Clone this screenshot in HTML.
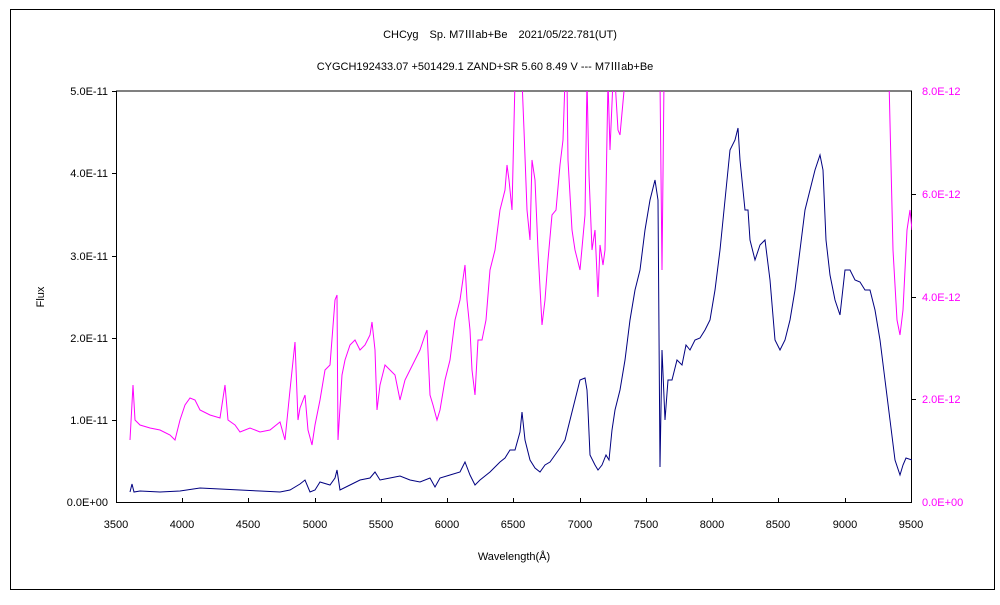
<!DOCTYPE html>
<html><head><meta charset="utf-8"><style>
body{margin:0;background:#fff;width:1000px;height:600px;overflow:hidden;font-family:"Liberation Sans","Noto Sans CJK JP",sans-serif;}
svg text{font-family:"Liberation Sans","Noto Sans CJK JP",sans-serif;font-size:11px;}
</style></head><body>
<svg width="1000" height="600" xmlns="http://www.w3.org/2000/svg">
<rect x="10.5" y="9.5" width="984" height="580" fill="#fff" stroke="#000" stroke-width="1"/>
<text x="500" y="38" text-anchor="middle">CHCyg　Sp. M7Ⅲab+Be　2021/05/22.781(UT)</text>
<text x="485" y="70" text-anchor="middle">CYGCH192433.07 +501429.1 ZAND+SR 5.60 8.49 V --- M7Ⅲab+Be</text>
<defs><clipPath id="c"><rect x="116" y="91" width="796" height="411"/></clipPath></defs>
<line x1="116" y1="91" x2="912" y2="91" stroke="#808080" stroke-width="2"/>
<line x1="116.5" y1="91" x2="116.5" y2="502" stroke="#000"/>
<line x1="911.5" y1="91" x2="911.5" y2="502" stroke="#000"/>
<line x1="116" y1="502.5" x2="912" y2="502.5" stroke="#000"/>
<g stroke="#000">
<line x1="112" y1="91.5" x2="116" y2="91.5"/><line x1="112" y1="173.5" x2="116" y2="173.5"/><line x1="112" y1="256.5" x2="116" y2="256.5"/><line x1="112" y1="338.5" x2="116" y2="338.5"/><line x1="112" y1="420.5" x2="116" y2="420.5"/>
<line x1="912" y1="194.5" x2="916" y2="194.5"/><line x1="912" y1="297.5" x2="916" y2="297.5"/><line x1="912" y1="399.5" x2="916" y2="399.5"/>
<line x1="182.5" y1="498" x2="182.5" y2="502"/><line x1="248.5" y1="498" x2="248.5" y2="502"/><line x1="315.5" y1="498" x2="315.5" y2="502"/><line x1="381.5" y1="498" x2="381.5" y2="502"/><line x1="447.5" y1="498" x2="447.5" y2="502"/><line x1="513.5" y1="498" x2="513.5" y2="502"/><line x1="580.5" y1="498" x2="580.5" y2="502"/><line x1="646.5" y1="498" x2="646.5" y2="502"/><line x1="712.5" y1="498" x2="712.5" y2="502"/><line x1="778.5" y1="498" x2="778.5" y2="502"/><line x1="845.5" y1="498" x2="845.5" y2="502"/>
</g>
<g text-anchor="end"><text x="108" y="95">5.0E-11</text><text x="108" y="177">4.0E-11</text><text x="108" y="260">3.0E-11</text><text x="108" y="342">2.0E-11</text><text x="108" y="424">1.0E-11</text><text x="108" y="506">0.0E+00</text></g>
<g fill="#ff00ff"><text x="922" y="95">8.0E-12</text><text x="922" y="198">6.0E-12</text><text x="922" y="301">4.0E-12</text><text x="922" y="403">2.0E-12</text><text x="922" y="506">0.0E+00</text></g>
<g text-anchor="middle"><text x="116" y="528">3500</text><text x="182" y="528">4000</text><text x="248" y="528">4500</text><text x="315" y="528">5000</text><text x="381" y="528">5500</text><text x="447" y="528">6000</text><text x="513" y="528">6500</text><text x="580" y="528">7000</text><text x="646" y="528">7500</text><text x="712" y="528">8000</text><text x="778" y="528">8500</text><text x="845" y="528">9000</text><text x="911" y="528">9500</text>
<text x="514" y="560">Wavelength(Å)</text></g>
<text x="44" y="297" text-anchor="middle" transform="rotate(-90 44 297)">Flux</text>
<g clip-path="url(#c)" fill="none">
<polyline stroke="#ff00ff" stroke-width="1" points="130,440 133,385 135,420 140,425 150,428 160,430 170,435 175,440 180,420 185,405 190,398 195,400 200,410 210,415 220,418 225,385 228,420 235,425 240,432 250,428 260,432 270,430 280,422 285,440 290,390 295,342 298,420 300,408 305,395 308,430 312,445 315,425 320,400 325,370 330,365 335,300 337,295 338,440 342,375 345,360 350,345 355,340 360,350 365,345 370,335 372,322 375,350 377,410 380,385 385,365 390,370 395,375 400,400 405,380 410,370 415,360 420,350 425,335 427,330 430,395 433,405 437,420 440,410 445,380 450,360 455,320 460,300 465,265 467,300 470,330 472,370 475,395 478,340 482,340 486,320 490,270 495,250 500,210 505,190 507,165 509,180 512,210 515,80 522,80 524,130 527,210 530,240 532,160 535,180 538,250 542,325 545,300 548,260 552,215 556,210 560,165 563,140 565,80 567,80 568,160 572,230 575,250 580,270 585,215 587,80 589,175 592,250 595,230 598,297 600,245 603,265 605,250 608,80 610,150 613,80 615,80 618,130 620,135 625,80 660,80 662,270 664,80 889,80 893,250 897,320 900,335 903,310 907,230 910,210 912,230"/>
<polyline stroke="#000080" stroke-width="1" points="130,492 132,484 134,492 140,491 160,492 180,491 200,488 220,489 240,490 260,491 280,492 290,490 300,484 305,480 310,492 315,490 320,482 330,485 335,478 337,470 340,490 350,485 360,480 370,478 375,472 380,480 390,478 400,476 410,480 420,482 430,478 435,487 440,478 450,475 460,472 465,462 470,475 475,485 480,480 490,472 500,462 505,458 510,450 515,450 520,432 522,412 525,440 530,460 535,468 540,472 545,465 550,462 555,455 560,448 565,440 570,420 575,400 580,380 585,378 587,390 588,410 590,455 595,465 598,470 602,465 606,455 609,460 612,430 615,410 620,390 625,360 630,320 635,290 640,270 645,230 650,200 655,180 658,200 660,467 662,350 665,420 668,380 672,380 677,360 682,365 686,345 690,350 695,340 700,338 705,330 710,320 715,290 720,250 725,200 730,150 735,140 738,128 740,160 745,210 748,210 750,240 755,260 760,245 765,240 770,280 775,340 780,350 785,340 790,320 795,290 800,250 805,210 810,190 815,170 820,155 823,170 826,240 830,275 835,300 840,315 845,270 850,270 855,280 860,282 865,290 870,290 875,310 880,340 885,380 890,420 895,460 900,475 903,465 906,458 912,460"/>
</g>
</svg>
</body></html>
